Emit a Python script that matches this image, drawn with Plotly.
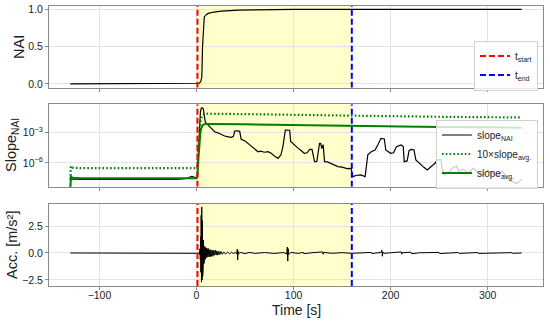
import plotly.graph_objects as go

# ---------------- data ----------------
t_start = 1.0
t_end = 160.0

nai_t = [-130, 0, 2, 3, 4.5, 5.5, 6.2, 7.2, 8, 10, 12, 18, 25.7, 43, 70, 100, 335]
nai_v = [0, 0, 0, 0.01, 0.035, 0.1, 0.5, 0.86, 0.9, 0.93, 0.947, 0.965, 0.977, 0.99, 0.995, 1.0, 1.0]

slope_t = [-130, -129.5, -129, -125, -120, -110, -100, -98, -80, -70, -68, -40, -20, -10, -5, -2, 0,
           1, 2, 3, 4, 5, 6, 7, 8, 9, 10, 12, 15, 18.7, 22, 25, 29, 33, 36, 38, 39.4, 42, 44.5, 46,
           50, 53, 56, 60, 63.4, 66, 70, 73.7, 77, 80, 84, 87, 89, 91.5, 94, 96, 97, 100, 104, 108,
           111, 114, 116.5, 119, 121, 121.6, 124, 126.7, 128, 129, 130.5, 131.9, 135, 140, 145.6,
           150, 155, 159.3, 161, 165, 169.6, 173.7, 175, 176.5, 180, 184, 187, 190, 193.5, 195,
           200, 203, 206, 210.7, 213, 214, 217, 219, 221, 224, 226, 231, 234, 237.7, 243, 246, 248,
           251.8, 253, 255, 260, 265, 268, 270, 275, 280, 285, 290, 295, 300, 305, 310, 315, 320,
           325, 330, 335]
slope_log10 = [-8.6, -7.2, -7.6, -7.55, -7.6, -7.6, -7.55, -7.6, -7.6, -7.55, -7.6, -7.6, -7.6, -7.5,
               -7.3, -7.4, -7.5,
               -7.0, -5.0, -2.5, -1.0, -0.62, -0.6, -0.7, -1.3, -2.0, -2.1, -2.3, -2.6, -2.94, -3.05,
               -3.2, -3.36, -3.45, -3.5, -3.4, -2.87, -2.85, -2.9, -3.68,
               -3.85, -4.08, -4.3, -4.6, -4.9, -4.85, -4.95, -4.9, -5.05, -5.3, -5.55, -5.2, -4.4,
               -2.78, -2.75, -2.8, -3.9, -4.2, -4.5, -4.8,
               -5.05, -5.0, -4.67, -4.67, -5.4, -5.87, -5.85, -4.08, -4.1, -4.6, -4.2, -5.87, -5.9,
               -6.1, -6.36,
               -6.4, -6.55, -6.52, -7.34, -7.2, -7.17, -7.34, -6.5, -5.2, -4.9, -4.73, -4.2, -3.59,
               -3.65, -4.73,
               -5.05, -5.0, -4.4, -4.24, -4.4, -5.87, -5.8, -4.8, -4.67, -4.7, -5.7, -6.2, -6.4,
               -6.68, -6.2, -6.0, -5.7,
               -5.7, -6.5, -7.17, -6.9, -6.4, -6.3, -6.8, -6.6, -7.0, -6.5, -6.9, -7.2, -6.7, -7.0,
               -7.3, -6.8, -7.4,
               -7.8, -8.0, -7.6]

avg_t = [-130, -129.5, -128, -120, 0, 1, 2, 3, 4, 5, 6, 8, 10, 50, 80, 160, 250, 335]
avg_log10 = [-8.6, -7.3, -7.45, -7.5, -7.5, -7.2, -5.5, -4.0, -3.0, -2.6, -2.35, -2.2, -2.18,
             -2.22, -2.27, -2.37, -2.48, -2.55]

acc_t = [-130, 0, 2, 2.5, 3, 3.3, 3.6, 3.9, 4.2, 4.5, 4.8, 5.1, 5.4, 5.7, 6.0, 6.3, 6.6, 6.9, 7.2,
         7.5, 7.8, 8.1, 8.5, 8.9, 9.3, 9.7, 10.2, 10.7, 11.2, 11.8, 12.4, 13, 13.6, 14.2, 14.8,
         15.5, 16.2, 17, 17.8, 18.6, 19.4, 20.2, 21, 22, 23, 24, 25, 26.5, 28, 30, 32, 34, 36, 38,
         40, 41.5, 42, 42.4, 42.8, 43.3, 45, 50, 55, 60, 70, 80, 90, 93, 93.5, 94, 94.5, 95, 97,
         105, 110, 110.5, 120, 130, 130.5, 131, 140, 150, 160, 170, 180, 180.5, 190, 191, 191.5,
         192, 193, 200, 211, 211.5, 212, 221, 221.5, 230, 250, 250.5, 270, 270.5, 290, 290.5, 310,
         310.5, 325, 325.5, 335]
acc_v = [0, 0, 0.02, -0.03, 0.1, -0.15, 0.4, -0.6, 1.5, -1.8, 3.5, -2.7, 4.27, -2.5, 3.0, -2.2,
         2.0, -1.5, 1.2, -1.0, 0.9, -0.8, 0.6, -0.6, 0.5, -0.45, 0.45, -0.4, 0.4, -0.35, 0.4,
         -0.35, 0.3, -0.35, 0.3, -0.3, 0.25, -0.3, 0.25, -0.2, 0.25, -0.2, 0.2, -0.2, 0.15, -0.15,
         0.15, -0.12, 0.1, -0.1, 0.08, -0.08, 0.07, -0.06, 0.05, -0.1, 0.35, -0.65, 0.2, -0.1,
         0.05, -0.05, 0.05, -0.04, 0.04, -0.04, 0.04, -0.1, 0.55, -0.75, 0.4, -0.15, 0.05, -0.04,
         0.06, -0.06, 0.03, 0.1, -0.12, 0.05, -0.03, 0.03, -0.03, 0.02, 0.05, -0.05, 0.05, 0.25,
         -0.3, 0.1, -0.03, 0.02, 0.1, -0.1, 0.02, 0.07, -0.07, 0.02, 0.05, -0.05, 0.04, -0.04,
         0.04, -0.04, 0.03, -0.03, 0.03, -0.03, 0]

slope_vals = [10 ** v for v in slope_log10]
avg_vals = [10 ** v for v in avg_log10]
avg10_vals = [10 * v for v in avg_vals]

# ---------------- figure ----------------
W, H = 550, 324
ML, MR = 49, 7
PW = W - ML - MR
def yd(top_px, bot_px):
    return [1 - bot_px / H, 1 - top_px / H]
def px_x(px):
    return (px - ML) / PW

FONT = "Liberation Sans, Arial, sans-serif"
GRID = "#e3e3e3"
FRAME = "#8a8a8a"
XR = [-152, 357]
NAI_R = [-0.05, 1.05]
SL_R = [-8.32, -0.26]
ACC_R = [-3.06, 4.54]
VDASH = "6px,3px"

fig = go.Figure()

# NAI panel
fig.add_trace(go.Scatter(x=nai_t, y=nai_v, mode="lines", line=dict(color="black", width=1.2),
                         showlegend=False, xaxis="x", yaxis="y"))
# slope panel
fig.add_trace(go.Scatter(x=slope_t, y=slope_vals, mode="lines", line=dict(color="black", width=1.2),
                         name="slope<sub>NAI</sub>", legend="legend2", xaxis="x2", yaxis="y2"))
fig.add_trace(go.Scatter(x=avg_t, y=avg10_vals, mode="lines",
                         line=dict(color="green", width=2.2, dash="1.6px,2.2px"),
                         name="10×slope<sub>avg.</sub>", legend="legend2", xaxis="x2", yaxis="y2"))
fig.add_trace(go.Scatter(x=avg_t, y=avg_vals, mode="lines", line=dict(color="green", width=2),
                         name="slope<sub>avg.</sub>", legend="legend2", xaxis="x2", yaxis="y2"))
# acc panel
fig.add_trace(go.Scatter(x=acc_t, y=acc_v, mode="lines", line=dict(color="black", width=1),
                         showlegend=False, xaxis="x3", yaxis="y3"))

# vertical markers
panels = [("x", "y", NAI_R), ("x2", "y2", [10 ** SL_R[0], 10 ** SL_R[1]]), ("x3", "y3", ACC_R)]
for i, (xa, ya, rng) in enumerate(panels):
    fig.add_trace(go.Scatter(x=[t_start, t_start], y=rng, mode="lines",
                             line=dict(color="red", width=2, dash=VDASH),
                             name="t<sub>start</sub>", showlegend=(i == 0), legend="legend",
                             xaxis=xa, yaxis=ya))
    fig.add_trace(go.Scatter(x=[t_end, t_end], y=rng, mode="lines",
                             line=dict(color="blue", width=2, dash=VDASH),
                             name="t<sub>end</sub>", showlegend=(i == 0), legend="legend",
                             xaxis=xa, yaxis=ya))
    fig.add_shape(type="rect", xref=xa, yref=ya + " domain", x0=t_start, x1=t_end, y0=0, y1=1,
                  fillcolor="rgba(255,255,0,0.2)", line=dict(width=0), layer="below")

axis_common = dict(showline=True, linecolor=FRAME, linewidth=1, mirror=True, gridcolor=GRID,
                   gridwidth=1, zeroline=False, ticks="outside", ticklen=3, tickcolor=FRAME,
                   automargin=False,
                   tickfont=dict(family=FONT, size=10.5, color="#222"))

xcommon = dict(axis_common, range=XR, tickvals=[-100, 0, 100, 200, 300], domain=[0, 1])
fig.update_layout(
    xaxis=dict(xcommon, anchor="y", showticklabels=False),
    xaxis2=dict(xcommon, anchor="y2", showticklabels=False, matches="x"),
    xaxis3=dict(xcommon, anchor="y3", matches="x", ticklabelstandoff=-4),
    yaxis=dict(axis_common, domain=yd(5.7, 87.7), anchor="x", range=NAI_R,
               tickvals=[0, 0.5, 1.0], ticktext=["0.0", "0.5", "1.0"]),
    yaxis2=dict(axis_common, domain=yd(104.3, 186.7), anchor="x2", type="log", range=SL_R,
                tickvals=[1e-6, 1e-3], ticktext=["10<sup>−6</sup>", "10<sup>−3</sup>"]),
    yaxis3=dict(axis_common, domain=yd(204, 286), anchor="x3", range=ACC_R,
                tickvals=[-2.5, 0, 2.5], ticktext=["−2.5", "0.0", "2.5"]),
    width=W, height=H,
    margin=dict(l=ML, r=MR, t=0, b=0, autoexpand=False),
    paper_bgcolor="white", plot_bgcolor="white",
    font=dict(family=FONT, color="#222"),
    legend=dict(x=px_x(538), xanchor="right", y=1 - 65.5 / H, yanchor="middle",
                bgcolor="rgba(255,255,255,0.8)", bordercolor="#d0d0d0", borderwidth=1,
                font=dict(family=FONT, size=10, color="#222"), itemwidth=30, tracegroupgap=0),
    legend2=dict(x=px_x(538), xanchor="right", y=1 - 154 / H, yanchor="middle",
                 bgcolor="rgba(255,255,255,0.8)", bordercolor="#d0d0d0", borderwidth=1,
                 font=dict(family=FONT, size=10, color="#222"), itemwidth=30, tracegroupgap=0),
)

# axis titles as annotations
titles = [("NAI", 19, 47), ("Slope<sub>NAI</sub>", 12, 145), ("Acc. [m/s²]", 12, 245)]
for txt, px, py in titles:
    fig.add_annotation(text=txt, x=px_x(px), y=1 - py / H, xref="paper", yref="paper",
                       showarrow=False, textangle=-90, font=dict(family=FONT, size=14.5, color="#222"),
                       xanchor="center", yanchor="middle")
fig.add_annotation(text="Time [s]", x=px_x(296), y=1 - 309.5 / H, xref="paper", yref="paper",
                   showarrow=False, font=dict(family=FONT, size=14, color="#222"),
                   xanchor="center", yanchor="middle")

fig.write_html("out.html", config={"displayModeBar": False},
               post_script="document.body.style.margin='0';document.body.style.overflow='hidden';")
